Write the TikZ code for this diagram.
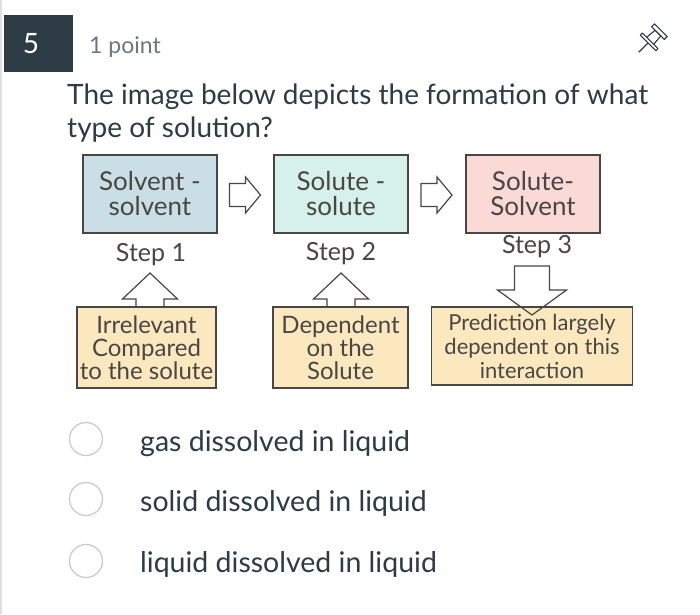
\documentclass[tikz,border=0pt]{standalone}
\usepackage{fontspec}
\setmainfont{Lato}
\usetikzlibrary{calc}

\definecolor{ink}{HTML}{2D3B45}
\definecolor{pencil}{HTML}{4A4644}
\definecolor{muted}{HTML}{6B7780}
\definecolor{blueish}{HTML}{CADFE5}
\definecolor{mintish}{HTML}{D5F1EA}
\definecolor{pinkish}{HTML}{FAD9D6}
\definecolor{creamish}{HTML}{FCE8BF}
\definecolor{ringgray}{HTML}{CCCCCC}

\begin{document}
\begin{tikzpicture}
  [x=1pt,y=-1pt,
   stepbox/.style={draw=pencil,line width=1.4pt,minimum width=134pt,minimum height=78pt,
     align=center,text=pencil,font=\fontsize{26}{25}\selectfont},
   notebox/.style={draw=pencil,line width=1.4pt,fill=creamish,align=center,text=pencil,
     font=\fontsize{24}{23}\selectfont,inner sep=0pt},
   steplabel/.style={text=pencil,font=\fontsize{25}{25}\selectfont},
   hollow/.style={draw=pencil,line width=1.2pt,line join=miter},
   radio/.style={circle,draw=ringgray,line width=1.3pt,minimum size=33pt,inner sep=0pt},
   option/.style={anchor=base west,inner xsep=0pt,text=ink,font=\fontsize{28.5}{28}\selectfont}]

  \useasboundingbox (0,0) rectangle (700,614);
  \fill[white] (0,0) rectangle (700,614);
  \fill[black!12] (0,0) rectangle (2,614);

  % header
  \fill[ink] (4,15) rectangle (73,72);
  \node[text=white,font=\fontsize{28}{28}\selectfont] (num) at (31,44) {5};
  \node[anchor=base west,inner xsep=0pt,text=muted,font=\fontsize{23}{23}\selectfont] (pts) at (89,53) {1 point};
  \begin{scope}[shift={(653,38)},rotate=45,line width=1.1pt,draw=ink,line join=round]
    \draw (-20,0) -- (-7,0);
    \draw (-7,-11) rectangle (-4,11);
    \draw (-4,-5) -- (7,-4) -- (7,4) -- (-4,5);
    \draw (7,-9) rectangle (11,9);
  \end{scope}

  \node[anchor=base west,inner xsep=0pt,text=ink,font=\fontsize{28}{28}\selectfont] (q1) at (67,104)
    {The image below depicts the formation of what};
  \node[anchor=base west,inner xsep=0pt,text=ink,font=\fontsize{28}{28}\selectfont] (q2) at (67,137)
    {type of solution?};

  % the three steps
  \node[stepbox,fill=blueish] (s1) at (150,194) {Solvent -\\solvent};
  \node[stepbox,fill=mintish] (s2) at (341,194) {Solute -\\solute};
  \node[stepbox,fill=pinkish] (s3) at (533,194) {Solute-\\Solvent};

  \coordinate (a12) at ($(s1.east)!.5!(s2.west)+(15,1)$);
  \coordinate (a23) at ($(s2.east)!.5!(s3.west)+(15,1)$);
  \draw[hollow] (a12) -- ++(-15,-18) -- ++(0,6.5) -- ++(-16,0) -- ++(0,23)
    -- ++(16,0) -- ++(0,6.5) -- cycle;
  \draw[hollow] (a23) -- ++(-15,-18) -- ++(0,6.5) -- ++(-16,0) -- ++(0,23)
    -- ++(16,0) -- ++(0,6.5) -- cycle;

  \node[steplabel] (l1) at (151,255) {Step 1};
  \node[steplabel] (l2) at (341,254) {Step 2};
  \node[steplabel] (l3) at (537,247) {Step 3};

  % notes under the steps
  \node[notebox,minimum width=139pt,minimum height=81pt] (n1) at (146.5,347.5)
    {Irrelevant\\Compared\\to the solute};
  \node[notebox,minimum width=135pt,minimum height=81pt] (n2) at (340.5,347.5)
    {Dependent\\on the\\Solute};
  \node[notebox,minimum width=201pt,minimum height=78pt,font=\fontsize{22}{24}\selectfont] (n3) at (532,346)
    {Prediction largely\\dependent on this\\interaction};

  \coordinate (u1) at (150,273);
  \coordinate (u2) at (341,273);
  \coordinate (d3) at (532,315);
  \draw[hollow] (u1) -- ++(27.5,26) -- ++(-13.5,0) -- ++(0,8) -- ++(-28,0)
    -- ++(0,-8) -- ++(-13.5,0) -- cycle;
  \draw[hollow] (u2) -- ++(27.5,26) -- ++(-13.5,0) -- ++(0,8) -- ++(-28,0)
    -- ++(0,-8) -- ++(-13.5,0) -- cycle;
  \draw[hollow] (d3) -- ++(34.5,-25) -- ++(-17,0) -- ++(0,-24) -- ++(-35,0)
    -- ++(0,24) -- ++(-17,0) -- cycle;

  % answers
  \node[radio] (r1) at (86,439) {};
  \node[radio] (r2) at (86,499) {};
  \node[radio] (r3) at (86,561) {};
  \node[option] (o1) at (140,451) {gas dissolved in liquid};
  \node[option] (o2) at (140,511) {solid dissolved in liquid};
  \node[option] (o3) at (140,572) {liquid dissolved in liquid};

\end{tikzpicture}
\end{document}
